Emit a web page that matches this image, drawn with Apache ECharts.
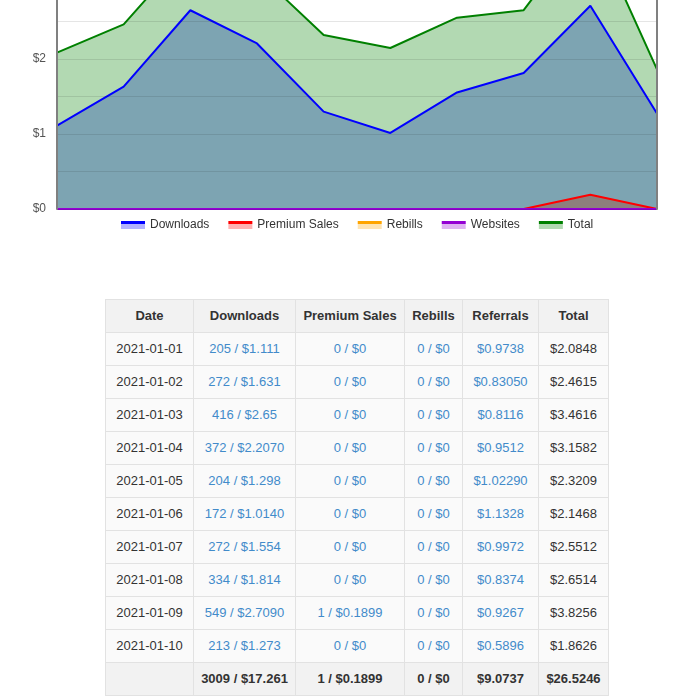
<!DOCTYPE html>
<html>
<head>
<meta charset="utf-8">
<script src="https://cdn.jsdelivr.net/npm/echarts@6/dist/echarts.min.js"></script>
<style>
  html, body { margin: 0; padding: 0; background: #fff; }
  body { width: 688px; height: 697px; position: relative; overflow: hidden;
    font-family: "Liberation Sans", Arial, Helvetica, sans-serif; }
  #chart { position: absolute; left: 0; top: -99px; width: 688px; height: 345px; }
  table.stats { position: absolute; left: 105px; top: 299px; width: 503px;
    border-collapse: collapse; table-layout: fixed; font-size: 13px; color: #333; }
  table.stats th, table.stats td { border: 1px solid #e2e2e2; padding: 6px 0;
    line-height: 20px; text-align: center; white-space: nowrap; }
  table.stats thead th { background: #f2f2f2; font-weight: bold; }
  table.stats tbody td { background: #fafafa; }
  table.stats tfoot td { background: #f2f2f2; font-weight: bold; }
  table.stats td.lnk { color: #428bca; }
</style>
</head>
<body>
<div id="chart"></div>
<table class="stats">
  <colgroup>
    <col style="width:88px"><col style="width:102px"><col style="width:109px">
    <col style="width:58px"><col style="width:76px"><col style="width:70px">
  </colgroup>
  <thead>
    <tr><th>Date</th><th>Downloads</th><th>Premium Sales</th><th>Rebills</th><th>Referrals</th><th>Total</th></tr>
  </thead>
  <tbody id="rows"></tbody>
  <tfoot id="foot"></tfoot>
</table>

<script>
// daily stats
var dates = ['2021-01-01', '2021-01-02', '2021-01-03', '2021-01-04', '2021-01-05',
  '2021-01-06', '2021-01-07', '2021-01-08', '2021-01-09', '2021-01-10']
var downloadCount = [205, 272, 416, 372, 204, 172, 272, 334, 549, 213]
var downloadValue = ['1.111', '1.631', '2.65', '2.2070', '1.298', '1.0140', '1.554', '1.814', '2.7090', '1.273']
var premiumCount = [0, 0, 0, 0, 0, 0, 0, 0, 1, 0]
var premiumValue = ['0', '0', '0', '0', '0', '0', '0', '0', '0.1899', '0']
var rebillCount = [0, 0, 0, 0, 0, 0, 0, 0, 0, 0]
var rebillValue = ['0', '0', '0', '0', '0', '0', '0', '0', '0', '0']
var websiteValue = [0, 0, 0, 0, 0, 0, 0, 0, 0, 0]
var referralValue = ['0.9738', '0.83050', '0.8116', '0.9512', '1.02290', '1.1328', '0.9972', '0.8374', '0.9267', '0.5896']
var totalValue = ['2.0848', '2.4615', '3.4616', '3.1582', '2.3209', '2.1468', '2.5512', '2.6514', '3.8256', '1.8626']
// footer sums
var footer = ['', '3009 / $17.261', '1 / $0.1899', '0 / $0', '$9.0737', '$26.5246']

// table
var rowsHtml = ''
dates.forEach(function(d, i) {
  rowsHtml += '<tr><td>' + d + '</td>' +
    '<td class="lnk">' + downloadCount[i] + ' / $' + downloadValue[i] + '</td>' +
    '<td class="lnk">' + premiumCount[i] + ' / $' + premiumValue[i] + '</td>' +
    '<td class="lnk">' + rebillCount[i] + ' / $' + rebillValue[i] + '</td>' +
    '<td class="lnk">$' + referralValue[i] + '</td>' +
    '<td>$' + totalValue[i] + '</td></tr>'
})
document.getElementById('rows').innerHTML = rowsHtml
document.getElementById('foot').innerHTML = '<tr>' + footer.map(function(f) { return '<td>' + f + '</td>' }).join('') + '</tr>'

// chart
var toNum = function(arr) { return arr.map(function(v) { return parseFloat(v) }) }
var seriesDefs = [
  { name: 'Downloads', color: '#0000ff', fill: 'rgba(0,0,255,0.3)', data: toNum(downloadValue) },
  { name: 'Premium Sales', color: '#ff0000', fill: 'rgba(255,0,0,0.3)', data: toNum(premiumValue) },
  { name: 'Rebills', color: '#ffa500', fill: 'rgba(255,165,0,0.3)', data: toNum(rebillValue) },
  { name: 'Websites', color: '#9400d3', fill: 'rgba(148,0,211,0.3)', data: websiteValue },
  { name: 'Total', color: '#008000', fill: 'rgba(0,128,0,0.3)', data: toNum(totalValue) }
]

var series = []
// fills first
seriesDefs.forEach(function(s) {
  series.push({
    name: s.name, type: 'line', data: s.data, z: 2,
    showSymbol: false, silent: true,
    lineStyle: { width: 0, color: s.color },
    itemStyle: { color: s.color },
    areaStyle: { color: s.fill, opacity: 1 }
  })
})
// then lines on top
seriesDefs.forEach(function(s) {
  series.push({
    name: s.name, type: 'line', data: s.data, z: 3,
    showSymbol: false,
    lineStyle: { width: 2, color: s.color },
    itemStyle: { color: s.color }
  })
})

var chart = echarts.init(document.getElementById('chart'))
chart.setOption({
  animation: false,
  textStyle: { fontFamily: '"Liberation Sans", Arial, sans-serif' },
  grid: { left: 57, right: 31, top: 8, bottom: 37 },
  legend: {
    top: 318,
    left: 121,
    padding: 0,
    icon: 'rect',
    itemWidth: 24,
    itemHeight: 8,
    itemGap: 19,
    textStyle: { fontSize: 12, color: '#333' },
    data: seriesDefs.map(function(s) {
      return {
        name: s.name,
        itemStyle: {
          borderWidth: 0,
          color: new echarts.graphic.LinearGradient(0, 0, 0, 1, [
            { offset: 0, color: s.color },
            { offset: 0.375, color: s.color },
            { offset: 0.375, color: s.fill },
            { offset: 1, color: s.fill }
          ])
        }
      }
    })
  },
  tooltip: { trigger: 'axis' },
  xAxis: {
    type: 'category',
    data: dates,
    boundaryGap: false,
    axisLine: { show: false },
    axisTick: { show: false },
    axisLabel: { show: false },
    splitLine: { show: false }
  },
  yAxis: [
    {
      type: 'value',
      min: 0,
      max: 4,
      interval: 0.5,
      z: 5,
      axisLine: { show: true, lineStyle: { color: '#808080', width: 2 } },
      axisTick: { show: false },
      axisLabel: {
        margin: 11,
        fontSize: 12,
        color: '#545454',
        formatter: function(v) { return v % 1 === 0 ? '$' + v : '' }
      },
      splitLine: { show: true, lineStyle: { color: 'rgba(0,0,0,0.1)', width: 1 } }
    },
    {
      type: 'value',
      position: 'right',
      min: 0,
      max: 4,
      interval: 0.5,
      z: 5,
      axisLine: { show: true, lineStyle: { color: '#808080', width: 2 } },
      axisTick: { show: false },
      axisLabel: { show: false },
      splitLine: { show: false }
    }
  ],
  series: series
})
</script>
</body>
</html>
